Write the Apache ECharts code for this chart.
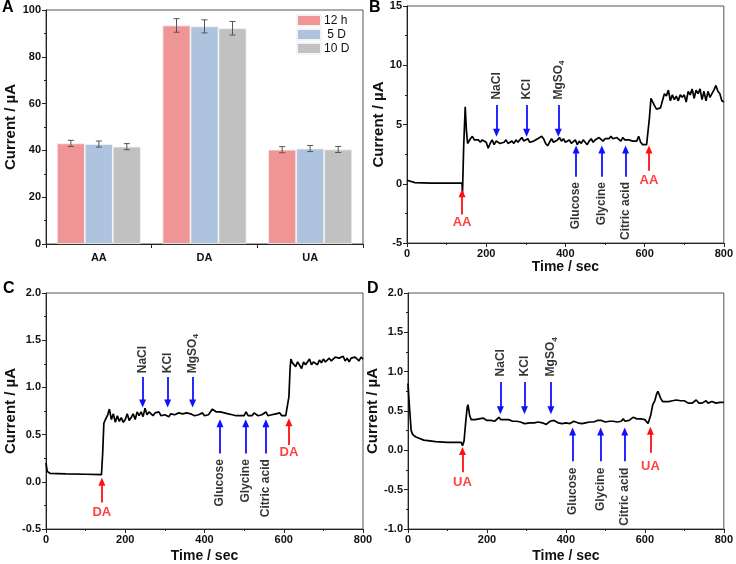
<!DOCTYPE html>
<html>
<head>
<meta charset="utf-8">
<script src="https://cdn.jsdelivr.net/npm/echarts@6/dist/echarts.min.js"></script>
<style>
    html, body { margin: 0; padding: 0; background: #fff; }
    #chart { width: 736px; height: 564px; }
</style>
</head>
<body>
<div id="chart"></div>
<script>
( () => {
    // panel A: stability bars
    const analytes = [ 'AA', 'DA', 'UA' ];
    const periods = [ '12 h', ' 5 D', '10 D' ];
    const current12h = [ 43.0, 93.4, 40.3 ];
    const current5D = [ 42.7, 93.0, 40.8 ];
    const current10D = [ 41.6, 92.2, 40.4 ];
    const error12h = [ 1.3, 2.9, 1.3 ];
    const error5D = [ 1.3, 2.8, 1.3 ];
    const error10D = [ 1.3, 2.9, 1.3 ];

    // panel B: AA interference trace [time, current]
    const traceAA = [
        [0,0.3],[5,0.15],[20,0.1],[60,0.05],[100,0.05],[139,0.05],[140,-0.9],[143,3],[147,6.5],[150,4.5],
        [153,3.4],[160,3.8],[165,4.0],[170,3.7],[175,3.6],[180,3.7],[185,3.5],[190,3.7],[195,3.6],[200,3.5],
        [205,3.0],[210,3.4],[215,3.7],[220,3.3],[225,3.6],[230,3.7],[235,3.4],[240,3.3],[245,3.5],[250,3.7],
        [255,3.4],[260,3.5],[265,3.6],[270,3.4],[275,3.7],[280,3.5],[285,3.7],[290,3.9],[295,3.6],[300,3.7],
        [305,3.8],[310,3.5],[315,3.6],[320,3.6],[325,3.5],[330,3.8],[335,3.7],[340,4.0],[345,3.8],[350,3.4],
        [355,3.2],[360,3.5],[365,3.8],[370,3.5],[375,3.6],[380,3.7],[385,3.9],[390,3.6],[395,3.8],[400,3.5],
        [405,3.6],[410,3.7],[415,3.4],[420,3.5],[425,3.7],[430,3.3],[435,3.6],[440,3.4],[445,3.7],[450,3.5],
        [455,3.3],[460,3.6],[465,3.8],[470,3.5],[475,3.7],[480,3.6],[485,3.9],[490,3.8],[495,3.6],[500,3.8],
        [505,3.7],[510,3.8],[515,4.0],[520,3.8],[525,3.7],[530,3.9],[535,3.8],[540,3.6],[545,3.9],[550,3.7],
        [555,3.6],[560,3.7],[565,3.7],[570,3.6],[575,3.5],[580,3.6],[585,4.0],[590,3.5],[595,3.3],[600,3.4],
        [605,3.3],[608,3.4],[612,5.5],[616,7.2],[620,7.1],[625,6.6],[630,6.3],[635,6.3],[640,6.4],[645,7.0],
        [650,7.6],[655,7.4],[660,7.9],[665,7.0],[670,7.5],[675,7.1],[680,7.4],[685,7.0],[690,7.5],[695,7.3],
        [700,7.5],[705,6.9],[710,7.8],[715,7.5],[720,8.0],[725,7.2],[730,7.9],[735,7.6],[740,8.0],[745,7.1],
        [750,7.8],[755,7.0],[760,7.8],[765,7.3],[770,7.6],[775,7.9],[780,8.3],[785,7.8],[790,7.6],[795,7.0],
        [800,6.9]
    ];

    // panel C: DA interference trace
    const traceDA = [
        [0,0.2],[3,0.11],[10,0.09],[50,0.085],[100,0.08],[140,0.075],[143,0.3],[146,0.62],[150,0.66],[155,0.7],
        [160,0.77],[165,0.66],[170,0.72],[175,0.63],[180,0.7],[185,0.64],[190,0.68],[195,0.63],[200,0.66],[205,0.72],
        [210,0.65],[215,0.68],[220,0.72],[225,0.66],[230,0.74],[235,0.70],[240,0.74],[245,0.69],[250,0.78],[255,0.71],
        [260,0.74],[265,0.72],[270,0.70],[275,0.73],[280,0.71],[285,0.74],[290,0.70],[295,0.72],[300,0.71],[305,0.73],
        [310,0.69],[315,0.72],[320,0.70],[325,0.71],[330,0.72],[335,0.73],[340,0.71],[345,0.72],[350,0.70],[355,0.73],
        [360,0.71],[365,0.72],[370,0.73],[375,0.70],[380,0.72],[385,0.71],[390,0.72],[395,0.73],[400,0.70],[405,0.72],
        [410,0.71],[415,0.73],[420,0.77],[425,0.75],[430,0.74],[435,0.73],[440,0.74],[445,0.72],[450,0.73],[455,0.71],
        [460,0.72],[465,0.70],[470,0.71],[475,0.72],[480,0.70],[485,0.71],[490,0.70],[495,0.72],[500,0.70],[505,0.74],
        [510,0.70],[515,0.71],[520,0.70],[525,0.73],[530,0.71],[535,0.70],[540,0.72],[545,0.71],[550,0.72],[555,0.74],
        [560,0.70],[565,0.72],[570,0.71],[575,0.70],[580,0.72],[585,0.71],[590,0.73],[595,0.70],[600,0.72],[605,0.70],
        [610,0.68],[613,0.9],[616,1.2],[618,1.3],[622,1.26],[625,1.28],[630,1.22],[635,1.27],[640,1.25],[645,1.2],
        [650,1.27],[655,1.24],[660,1.26],[665,1.30],[670,1.24],[675,1.27],[680,1.28],[685,1.24],[690,1.29],[695,1.26],
        [700,1.30],[705,1.27],[710,1.29],[715,1.31],[720,1.28],[725,1.30],[730,1.32],[735,1.34],[740,1.31],[745,1.30],
        [750,1.33],[755,1.28],[760,1.31],[765,1.27],[770,1.31],[775,1.29],[780,1.32],[785,1.30],[790,1.28],[795,1.32],
        [800,1.30]
    ];

    // panel D: UA interference trace
    const traceUA = [
        [0,0.85],[3,0.6],[8,0.25],[12,0.2],[20,0.17],[40,0.13],[70,0.11],[100,0.1],[135,0.1],[138,0.06],
        [142,0.12],[146,0.35],[150,0.55],[152,0.58],[156,0.45],[160,0.39],[165,0.4],[170,0.39],[175,0.41],[180,0.40],
        [185,0.38],[190,0.41],[195,0.39],[200,0.38],[205,0.37],[210,0.38],[215,0.37],[220,0.37],[225,0.39],[230,0.42],
        [235,0.39],[240,0.38],[245,0.39],[250,0.38],[255,0.39],[260,0.38],[265,0.37],[270,0.36],[275,0.37],[280,0.35],
        [285,0.36],[290,0.34],[295,0.34],[300,0.34],[310,0.35],[320,0.35],[330,0.36],[340,0.35],[345,0.37],[350,0.33],
        [355,0.35],[360,0.37],[365,0.35],[370,0.38],[375,0.36],[380,0.35],[385,0.37],[390,0.34],[400,0.35],[410,0.34],
        [420,0.37],[425,0.35],[430,0.35],[440,0.34],[450,0.35],[460,0.36],[465,0.34],[470,0.36],[475,0.38],[480,0.38],
        [485,0.37],[490,0.38],[495,0.37],[500,0.36],[505,0.37],[510,0.37],[515,0.38],[520,0.37],[525,0.38],[530,0.36],
        [535,0.35],[540,0.37],[545,0.40],[550,0.37],[555,0.36],[560,0.38],[565,0.40],[570,0.42],[575,0.41],[580,0.40],
        [590,0.40],[600,0.39],[608,0.34],[612,0.33],[615,0.45],[620,0.58],[625,0.63],[630,0.72],[633,0.75],[637,0.7],
        [640,0.66],[645,0.62],[650,0.62],[660,0.62],[670,0.63],[680,0.64],[690,0.63],[700,0.63],[710,0.6],[720,0.6],
        [725,0.59],[730,0.64],[733,0.65],[737,0.6],[745,0.6],[750,0.61],[755,0.63],[760,0.6],[770,0.62],[775,0.64],
        [780,0.6],[790,0.61],[795,0.63],[800,0.61]
    ];

    const interferents = [ 'NaCl', 'KCl', 'MgSO{sub|4}', 'Glucose', 'Glycine', 'Citric acid' ];

    const FONT = 'Liberation Sans, Arial, sans-serif';
    const barColors = [ '#f09595', '#adc3de', '#c1c1c1' ];
    const barValues = [ current12h, current5D, current10D ];
    const barErrors = [ error12h, error5D, error10D ];
    const BAR_W = 28;

    // annotation layout per panel: [time, arrowStart, arrowEnd] for each interferent, then red analyte arrows
    const notes = [
        {
            name: 'AA', idx: 1,
            down: [ [ 226, 6.65, 4.3 ], [ 302, 6.65, 4.3 ], [ 382, 6.65, 4.3 ] ],
            downText: 7.1,
            up: [ [ 427, 0.6, 2.9 ], [ 492, 0.6, 2.9 ], [ 552, 0.6, 2.9 ] ],
            upText: 0.15,
            red: [ [ 139, -2.6, -0.8, -3.3 ], [ 611, 1.1, 2.9, 0.3 ] ],
        },
        {
            name: 'DA', idx: 2,
            down: [ [ 244, 1.11, 0.83 ], [ 307, 1.11, 0.83 ], [ 370, 1.11, 0.83 ] ],
            downText: 1.15,
            up: [ [ 439, 0.30, 0.62 ], [ 504, 0.30, 0.62 ], [ 555, 0.30, 0.62 ] ],
            upText: 0.24,
            red: [ [ 141, -0.22, 0.0, -0.32 ], [ 613, 0.39, 0.63, 0.31 ] ],
        },
        {
            name: 'UA', idx: 3,
            down: [ [ 234, 0.87, 0.51 ], [ 295, 0.87, 0.51 ], [ 362, 0.87, 0.51 ] ],
            downText: 0.94,
            up: [ [ 417, -0.14, 0.24 ], [ 488, -0.14, 0.24 ], [ 549, -0.14, 0.24 ] ],
            upText: -0.22,
            red: [ [ 138, -0.28, -0.01, -0.41 ], [ 614, -0.03, 0.25, -0.21 ] ],
        },
    ];

    const chart = echarts.init( document.getElementById( 'chart' ), null, { renderer: 'canvas' } );

    const axisLine = { show: true, onZero: false, lineStyle: { color: '#222', width: 1 } };
    const axisLabel = { color: '#111', fontFamily: FONT, fontWeight: 'bold', fontSize: 11, margin: 5 };
    const nameStyle = { color: '#111', fontFamily: FONT, fontWeight: 'bold', fontSize: 15 };

    const grids = [
        { left: 46, top: 10, width: 317, height: 234 },
        { left: 407, top: 6, width: 318, height: 237 },
        { left: 46, top: 293, width: 317, height: 236 },
        { left: 408, top: 293, width: 318, height: 236 },
    ].map( g => Object.assign( { show: true, borderColor: '#555', borderWidth: 1, containLabel: false }, g ) );

    const yRanges = [ [ 0, 100, 20 ], [ -5, 15, 5 ], [ -0.5, 2, 0.5 ], [ -1, 2, 0.5 ] ];
    const yNameGaps = [ 27, 16, 27, 22 ];

    const yAxes = yRanges.map( ( r, i ) => ( {
        type: 'value',
        gridIndex: i,
        min: r[ 0 ],
        max: r[ 1 ],
        interval: r[ 2 ],
        name: 'Current / µA',
        nameLocation: 'middle',
        nameGap: yNameGaps[ i ],
        nameTextStyle: nameStyle,
        axisLine: axisLine,
        axisTick: { show: true, inside: false, length: 4, lineStyle: { color: '#222' } },
        minorTick: { show: true, splitNumber: 2, length: 2, lineStyle: { color: '#222' } },
        splitLine: { show: false },
        axisLabel: Object.assign( {}, axisLabel, {
            formatter: v => ( i >= 2 ? v.toFixed( 1 ) : String( v ) ),
        } ),
    } ) );

    const xAxes = [
        {
            type: 'category',
            gridIndex: 0,
            data: analytes,
            axisLine: axisLine,
            axisTick: { show: true, length: 4, lineStyle: { color: '#222' } },
            axisLabel: Object.assign( {}, axisLabel, { margin: 8 } ),
        },
    ];
    const xNameGaps = [ 0, 17, 20, 20 ];
    for ( let i = 1; i < 4; i++ ) {
        xAxes.push( {
            type: 'value',
            gridIndex: i,
            min: 0,
            max: 800,
            interval: 200,
            name: 'Time / sec',
            nameLocation: 'middle',
            nameGap: xNameGaps[ i ],
            nameTextStyle: Object.assign( {}, nameStyle, { fontSize: 14 } ),
            axisLine: axisLine,
            axisTick: { show: true, inside: false, length: 4, lineStyle: { color: '#222' } },
            minorTick: { show: true, splitNumber: 2, length: 2, lineStyle: { color: '#222' } },
            splitLine: { show: false },
            axisLabel: axisLabel,
        } );
    }

    const series = [];

    periods.forEach( ( p, k ) => {
        series.push( {
            type: 'bar',
            name: p,
            xAxisIndex: 0,
            yAxisIndex: 0,
            data: barValues[ k ],
            barWidth: BAR_W,
            barGap: '0%',
            itemStyle: { color: barColors[ k ], borderColor: '#f4f4f4', borderWidth: 0.8 },
            z: 2,
        } );
    } );

    periods.forEach( ( p, k ) => {
        series.push( {
            type: 'custom',
            name: 'err' + k,
            xAxisIndex: 0,
            yAxisIndex: 0,
            silent: true,
            z: 5,
            data: barValues[ k ].map( ( v, j ) => [ j, v - barErrors[ k ][ j ], v + barErrors[ k ][ j ] ] ),
            renderItem: ( params, api ) => {
                const lo = api.coord( [ api.value( 0 ), api.value( 1 ) ] );
                const hi = api.coord( [ api.value( 0 ), api.value( 2 ) ] );
                const x = lo[ 0 ] + ( k - 1 ) * BAR_W;
                const cap = 3;
                const style = { stroke: '#555', lineWidth: 1 };
                return {
                    type: 'group',
                    children: [
                        { type: 'line', shape: { x1: x, y1: lo[ 1 ], x2: x, y2: hi[ 1 ] }, style: style },
                        { type: 'line', shape: { x1: x - cap, y1: lo[ 1 ], x2: x + cap, y2: lo[ 1 ] }, style: style },
                        { type: 'line', shape: { x1: x - cap, y1: hi[ 1 ], x2: x + cap, y2: hi[ 1 ] }, style: style },
                    ],
                };
            },
        } );
    } );

    const traces = [ traceAA, traceDA, traceUA ];
    const textBase = { fontFamily: FONT, fontWeight: 'bold', fontSize: 12, color: '#000' };

    notes.forEach( ( n, m ) => {
        const arrows = [];
        n.down.concat( n.up ).forEach( a => {
            arrows.push( [
                { coord: [ a[ 0 ], a[ 1 ] ], lineStyle: { color: '#1010ff', width: 1.8, type: 'solid' } },
                { coord: [ a[ 0 ], a[ 2 ] ] },
            ] );
        } );
        n.red.forEach( a => {
            arrows.push( [
                { coord: [ a[ 0 ], a[ 1 ] ], lineStyle: { color: '#ff1010', width: 1.8, type: 'solid' } },
                { coord: [ a[ 0 ], a[ 2 ] ] },
            ] );
        } );

        series.push( {
            type: 'line',
            name: n.name,
            xAxisIndex: n.idx,
            yAxisIndex: n.idx,
            data: traces[ m ],
            showSymbol: false,
            symbol: 'none',
            lineStyle: { color: '#000', width: 1.7 },
            z: 3,
            markLine: {
                silent: true,
                animation: false,
                symbol: [ 'none', 'triangle' ],
                symbolSize: [ 7, 8 ],
                label: { show: false },
                data: arrows,
            },
        } );

        const labels = [];
        n.down.forEach( ( a, j ) => {
            labels.push( {
                value: [ a[ 0 ], n.downText ],
                label: Object.assign( {}, textBase, {
                    show: true, formatter: interferents[ j ], rotate: 90,
                    align: 'left', verticalAlign: 'middle', position: 'inside',
                    rich: { sub: { fontFamily: FONT, fontWeight: 'bold', fontSize: 8, color: '#000', padding: [ 7, 0, 0, 0 ] } },
                } ),
            } );
        } );
        n.up.forEach( ( a, j ) => {
            labels.push( {
                value: [ a[ 0 ], n.upText ],
                label: Object.assign( {}, textBase, {
                    show: true, formatter: interferents[ j + 3 ], rotate: 90,
                    align: 'right', verticalAlign: 'middle', position: 'inside',
                } ),
            } );
        } );
        n.red.forEach( a => {
            labels.push( {
                value: [ a[ 0 ], a[ 3 ] ],
                label: Object.assign( {}, textBase, {
                    show: true, formatter: n.name, color: '#ff1010', fontSize: 13,
                    align: 'center', verticalAlign: 'middle', position: 'inside',
                } ),
            } );
        } );

        series.push( {
            type: 'scatter',
            name: n.name + ' notes',
            xAxisIndex: n.idx,
            yAxisIndex: n.idx,
            silent: true,
            symbolSize: 1,
            itemStyle: { color: 'rgba(0,0,0,0)' },
            data: labels,
            z: 6,
        } );
    } );

    const letter = ( t, x, y ) => ( {
        type: 'text',
        left: x,
        top: y,
        style: { text: t, fontFamily: FONT, fontWeight: 'bold', fontSize: 16, fill: '#000' },
    } );

    chart.setOption( {
        animation: false,
        backgroundColor: '#fff',
        grid: grids,
        xAxis: xAxes,
        yAxis: yAxes,
        legend: {
            data: periods,
            orient: 'vertical',
            left: 291,
            top: 9,
            itemWidth: 24,
            itemHeight: 11,
            itemGap: 1,
            textStyle: { fontFamily: FONT, fontSize: 12, color: '#111', padding: [ 0, 0, 0, -2 ] },
            icon: 'rect',
        },
        graphic: [
            letter( 'A', 2, 0 ),
            letter( 'B', 369, 0 ),
            letter( 'C', 3, 281 ),
            letter( 'D', 367, 281 ),
        ],
        series: series,
    } );

    window.addEventListener( 'resize', () => chart.resize() );
} ) ();
</script>
</body>
</html>
